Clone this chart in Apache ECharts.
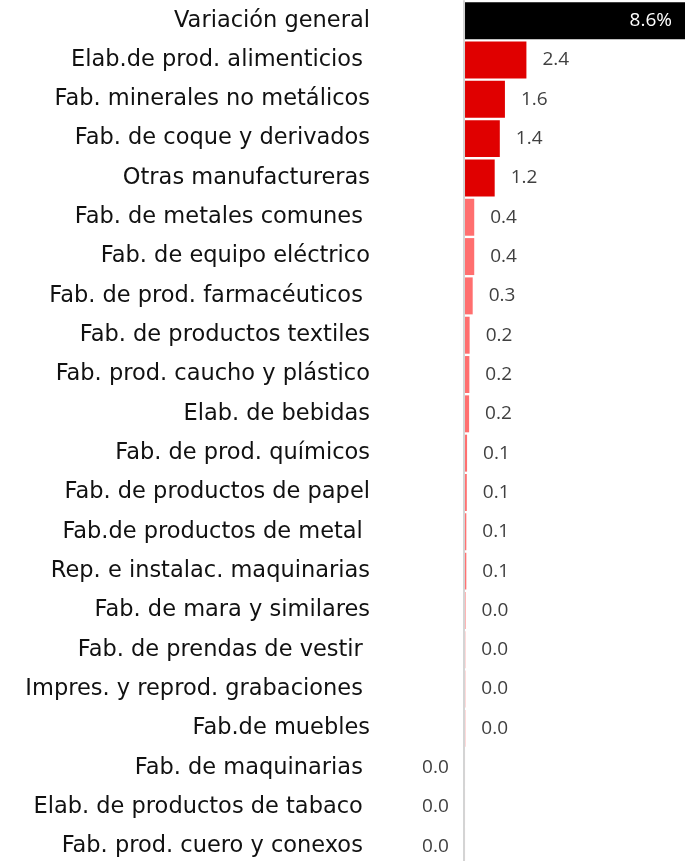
<!DOCTYPE html>
<html>
<head>
<meta charset="utf-8">
<script src="https://cdn.jsdelivr.net/npm/echarts@6/dist/echarts.min.js"></script>
<style>
  html, body { margin: 0; padding: 0; background: #fff; overflow: hidden; }
  #chart { width: 685px; height: 866px; }
</style>
</head>
<body>
<div id="chart"></div>
<script>
// categorías (los espacios finales vienen del original)
const categorias = [
  "Variación general",
  "Elab.de prod. alimenticios ",
  "Fab. minerales no metálicos",
  "Fab. de coque y derivados",
  "Otras manufactureras",
  "Fab. de metales comunes ",
  "Fab. de equipo eléctrico",
  "Fab. de prod. farmacéuticos ",
  "Fab. de productos textiles",
  "Fab. prod. caucho y plástico",
  "Elab. de bebidas",
  "Fab. de prod. químicos",
  "Fab. de productos de papel",
  "Fab.de productos de metal ",
  "Rep. e instalac. maquinarias",
  "Fab. de mara y similares",
  "Fab. de prendas de vestir ",
  "Impres. y reprod. grabaciones ",
  "Fab.de muebles",
  "Fab. de maquinarias ",
  "Elab. de productos de tabaco ",
  "Fab. prod. cuero y conexos "
];

// contribución (puntos porcentuales)
const valores = [
  8.6, 2.4, 1.56, 1.36, 1.16,
  0.36, 0.36, 0.3, 0.18, 0.17, 0.16,
  0.08, 0.07, 0.051, 0.051,
  0.02, 0.01, 0.01, 0.01,
  -0.01, -0.01, -0.01
];

function colorBarra(i, v) {
  if (i === 0) return "#000000";
  if (v >= 1) return "#e00000";
  return "#ff6f6f";
}

const chart = echarts.init(document.getElementById("chart"));

const option = {
  animation: false,
  grid: { left: 464, right: 0, top: 1, bottom: 0, containLabel: false },
  xAxis: {
    type: "value",
    min: -0.04,
    max: 8.6,
    show: false
  },
  yAxis: {
    type: "category",
    inverse: true,
    data: categorias,
    z: 5,
    axisLine: { show: true, onZero: false, lineStyle: { color: "#d4d4d4", width: 2 } },
    axisTick: { show: false },
    axisLabel: {
      margin: 94,
      fontFamily: "DejaVu Sans",
      fontSize: 22.5,
      color: "#111"
    }
  },
  series: [{
    type: "bar",
    barCategoryGap: "6%",
    data: valores.map((v, i) => ({
      value: v,
      itemStyle: { color: colorBarra(i, v) },
      label: i === 0
        ? { position: "insideRight", distance: 13, color: "#fff", formatter: v.toFixed(1) + "%" }
        : { position: v < 0 ? "left" : "right", distance: 16 }
    })),
    label: {
      show: true,
      fontFamily: "Open Sans",
      fontSize: 19,
      color: "#404040",
      formatter: p => Math.abs(p.value).toFixed(1)
    }
  }]
};

chart.setOption(option);
</script>
</body>
</html>
